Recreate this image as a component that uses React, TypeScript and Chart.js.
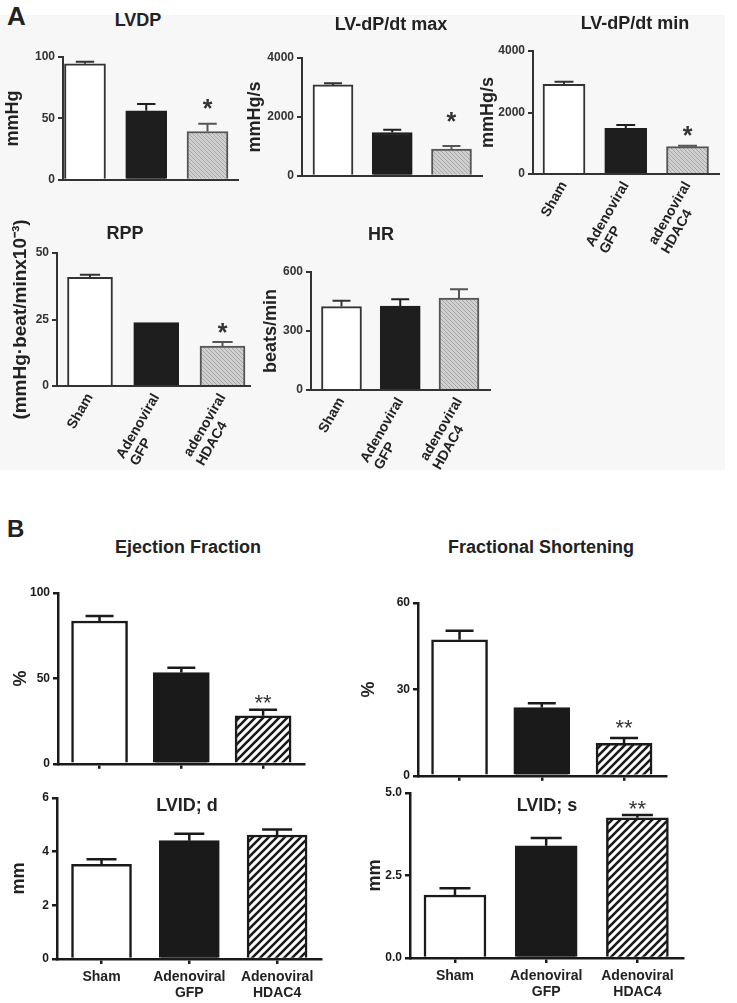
import React, { useEffect, useRef } from "react";
import { Chart, registerables } from "chart.js";

Chart.register(...registerables);

const FONT = '"Liberation Sans", Arial, Helvetica, sans-serif';

// ---- categories ----
const groupsA: string[][] = [["Sham"], ["Adenoviral", "GFP"], ["adenoviral", "HDAC4"]];
const groupsB: string[][] = [["Sham"], ["Adenoviral", "GFP"], ["Adenoviral", "HDAC4"]];

// ---- panel A data ----
const lvdpMean = [94.5, 56.2, 39.3];
const lvdpSem = [1.6, 5.5, 6.3];
const lvdpStars = ["", "", "*"];
const lvdpTicks = [0, 50, 100];

const dpdtMaxMean = [3085, 1470, 905];
const dpdtMaxSem = [55, 90, 110];
const dpdtMaxStars = ["", "", "*"];
const dpdtMaxTicks = [0, 2000, 4000];

const dpdtMinMean = [2915, 1485, 890];
const dpdtMinSem = [85, 110, 30];
const dpdtMinStars = ["", "", "*"];
const dpdtMinTicks = [0, 2000, 4000];

const rppMean = [40.9, 23.8, 15.0];
const rppSem = [0.9, 0, 1.5];
const rppStars = ["", "", "*"];
const rppTicks = [0, 25, 50];

const hrMean = [424, 427, 468];
const hrSem = [30, 34, 44];
const hrStars = ["", "", ""];
const hrTicks = [0, 300, 600];

// ---- panel B data ----
const efMean = [83.6, 53.4, 28.1];
const efSem = [2.9, 2.9, 3.5];
const efStars = ["", "", "**"];
const efTicks = [0, 50, 100];

const fsMean = [47.2, 23.7, 11.3];
const fsSem = [3.2, 1.5, 1.8];
const fsStars = ["", "", "**"];
const fsTicks = [0, 30, 60];

const lvidDMean = [3.53, 4.41, 4.62];
const lvidDSem = [0.19, 0.26, 0.21];
const lvidDStars = ["", "", ""];
const lvidDTicks = [0, 2, 4, 6];

const lvidSMean = [1.91, 3.40, 4.25];
const lvidSSem = [0.2, 0.24, 0.08];
const lvidSStars = ["", "", "**"];
const lvidSTicks = [0, 2.5, 5];
const lvidSTickLabels = ["0.0", "2.5", "5.0"];

type Spec = {
  id: string;
  title: string; tx: number; ty: number;
  cx: number; cy: number; cw: number;
  pl: number; pt: number; pr: number; pb: number;
  xh: number; xMin: number; xMax: number; bar: number;
  ticks: number[]; tickLabels?: string[];
  yTitle: string; yTitleX: number; yTitleSize?: number;
  means: number[]; sems: number[]; stars: string[]; starGap: number;
  panel: "A" | "B";
  labels: string[][] | null; rotate: boolean; xTicks: boolean; labelPad: number;
};

const SPECS: Spec[] = [
  { id: "lvdp", title: "LVDP", tx: 138, ty: 20, cx: 0, cy: 45, cw: 250, pl: 63, pt: 57, pr: 238, pb: 180,
    xh: 10, xMin: 0.641, xMax: 3.498, bar: 41, ticks: lvdpTicks, yTitle: "mmHg", yTitleX: 13,
    means: lvdpMean, sems: lvdpSem, stars: lvdpStars, starGap: 20, panel: "A", labels: null, rotate: false, xTicks: false, labelPad: 0 },
  { id: "dpmax", title: "LV-dP/dt max", tx: 391, ty: 24, cx: 240, cy: 46, cw: 250, pl: 302, pt: 58, pr: 482, pb: 176,
    xh: 10, xMin: 0.477, xMax: 3.515, bar: 40, ticks: dpdtMaxTicks, yTitle: "mmHg/s", yTitleX: 255,
    means: dpdtMaxMean, sems: dpdtMaxSem, stars: dpdtMaxStars, starGap: 29, panel: "A", labels: null, rotate: false, xTicks: false, labelPad: 0 },
  { id: "dpmin", title: "LV-dP/dt min", tx: 635, ty: 23, cx: 470, cy: 39, cw: 267, pl: 533, pt: 51, pr: 719, pb: 174,
    xh: 80, xMin: 0.498, xMax: 3.51, bar: 42, ticks: dpdtMinTicks, yTitle: "mmHg/s", yTitleX: 488,
    means: dpdtMinMean, sems: dpdtMinSem, stars: dpdtMinStars, starGap: 15, panel: "A", labels: groupsA, rotate: true, xTicks: false, labelPad: 5 },
  { id: "rpp", title: "RPP", tx: 125, ty: 233, cx: 0, cy: 200, cw: 262, pl: 57, pt: 253, pr: 250, pb: 386,
    xh: 85, xMin: 0.502, xMax: 3.415, bar: 45, ticks: rppTicks, yTitle: "(mmHg\u00b7beat/minx10\u207b\u00b3)", yTitleX: 21, yTitleSize: 19,
    means: rppMean, sems: rppSem, stars: rppStars, starGap: 14, panel: "A", labels: groupsA, rotate: true, xTicks: false, labelPad: 5 },
  { id: "hr", title: "HR", tx: 381, ty: 234, cx: 250, cy: 260, cw: 250, pl: 311, pt: 272, pr: 490, pb: 390,
    xh: 85, xMin: 0.481, xMax: 3.528, bar: 40, ticks: hrTicks, yTitle: "beats/min", yTitleX: 271,
    means: hrMean, sems: hrSem, stars: hrStars, starGap: 14, panel: "A", labels: groupsA, rotate: true, xTicks: false, labelPad: 5 },
  { id: "ef", title: "Ejection Fraction", tx: 188, ty: 547, cx: 0, cy: 581, cw: 340, pl: 58, pt: 593, pr: 304, pb: 764,
    xh: 10, xMin: 0.492, xMax: 3.5, bar: 56, ticks: efTicks, yTitle: "%", yTitleX: 21,
    means: efMean, sems: efSem, stars: efStars, starGap: 11, panel: "B", labels: null, rotate: false, xTicks: true, labelPad: 0 },
  { id: "fs", title: "Fractional Shortening", tx: 541, ty: 547, cx: 355, cy: 591, cw: 382, pl: 418, pt: 603, pr: 666, pb: 776,
    xh: 10, xMin: 0.495, xMax: 3.51, bar: 56, ticks: fsTicks, yTitle: "%", yTitleX: 369,
    means: fsMean, sems: fsSem, stars: fsStars, starGap: 14, panel: "B", labels: null, rotate: false, xTicks: true, labelPad: 0 },
  { id: "lvidd", title: "LVID; d", tx: 187, ty: 805, cx: 0, cy: 786, cw: 345, pl: 57, pt: 798, pr: 321, pb: 959,
    xh: 44, xMin: 0.493, xMax: 3.5, bar: 60, ticks: lvidDTicks, yTitle: "mm", yTitleX: 19,
    means: lvidDMean, sems: lvidDSem, stars: lvidDStars, starGap: 10, panel: "B", labels: groupsB, rotate: false, xTicks: true, labelPad: 5 },
  { id: "lvids", title: "LVID; s", tx: 547, ty: 805, cx: 355, cy: 781, cw: 382, pl: 410, pt: 793, pr: 683, pb: 958,
    xh: 45, xMin: 0.507, xMax: 3.5, bar: 62, ticks: lvidSTicks, tickLabels: lvidSTickLabels, yTitle: "mm", yTitleX: 375,
    means: lvidSMean, sems: lvidSSem, stars: lvidSStars, starGap: 10, panel: "B", labels: groupsB, rotate: false, xTicks: true, labelPad: 5 },
];

const STYLE = {
  A: { axis: "#333333", axisW: 2, tickColor: "#333333", fills: ["#ffffff", "#1e1e1e"], borders: ["#333333", "#1e1e1e", "#555555"],
       barW: 2, errW: 2, cap: 0.45, starFont: `bold 25px ${FONT}`, starColor: "#333333", yTitleSize: 18, labelSize: 14 },
  B: { axis: "#1a1a1a", axisW: 2.5, tickColor: "#1a1a1a", fills: ["#ffffff", "#1a1a1a"], borders: ["#1a1a1a", "#1a1a1a", "#1a1a1a"],
       barW: 2.5, errW: 2.5, cap: 0.5, starFont: `22px ${FONT}`, starColor: "#333333", yTitleSize: 18, labelSize: 14 },
};

function makePattern(kind: "A" | "B"): CanvasPattern | string {
  const c = document.createElement("canvas");
  const n = kind === "A" ? 4 : 8;
  c.width = n; c.height = n;
  const g = c.getContext("2d");
  if (!g) return "#cccccc";
  if (kind === "A") {
    g.fillStyle = "#d0d0d0"; g.fillRect(0, 0, n, n);
    g.strokeStyle = "#a6a6a6"; g.lineWidth = 1;
    g.beginPath();
    g.moveTo(-1, -1); g.lineTo(n + 1, n + 1);
    g.moveTo(-1, n - 1); g.lineTo(1, n + 1);
    g.moveTo(n - 1, -1); g.lineTo(n + 1, 1);
    g.stroke();
  } else {
    g.fillStyle = "#ffffff"; g.fillRect(0, 0, n, n);
    g.strokeStyle = "#1a1a1a"; g.lineWidth = 2.6;
    g.beginPath();
    g.moveTo(-1, n + 1); g.lineTo(n + 1, -1);
    g.moveTo(-3, 3); g.lineTo(3, -3);
    g.moveTo(n - 3, n + 3); g.lineTo(n + 3, n - 3);
    g.stroke();
  }
  return g.createPattern(c, "repeat") || "#cccccc";
}

// Rotated multi-line labels are right-aligned by Chart.js; pad the shorter
// line with trailing spaces so the lines start together, as in the figure.
function padLines(lines: string[], font: string): string[] {
  const g = document.createElement("canvas").getContext("2d");
  if (!g || lines.length < 2) return lines;
  g.font = font;
  const w = lines.map((l) => g.measureText(l).width);
  const maxW = Math.max(...w);
  const sp = g.measureText(" ").width;
  return lines.map((l, i) => l + " ".repeat(Math.max(0, Math.round((maxW - w[i]) / sp))));
}

function errPlugin(s: Spec, st: any) {
  return {
    id: "errStars_" + s.id,
    afterDatasetsDraw(chart: any) {
      const meta = chart.getDatasetMeta(0);
      const ctx = chart.ctx as CanvasRenderingContext2D;
      const y = chart.scales.y;
      meta.data.forEach((bar: any, i: number) => {
        const e = s.sems[i];
        const yTop = y.getPixelForValue(s.means[i] + e);
        const half = (bar.width * st.cap) / 2;
        ctx.save();
        ctx.strokeStyle = st.borders[i];
        ctx.lineWidth = st.errW;
        if (e > 0) {
          ctx.beginPath();
          ctx.moveTo(bar.x, bar.y);
          ctx.lineTo(bar.x, yTop);
          ctx.moveTo(bar.x - half, yTop);
          ctx.lineTo(bar.x + half, yTop);
          ctx.stroke();
        }
        const star = s.stars[i];
        if (star) {
          ctx.font = st.starFont;
          ctx.fillStyle = st.starColor;
          ctx.textAlign = "center";
          ctx.textBaseline = "alphabetic";
          const m = ctx.measureText(star);
          const cyStar = yTop - s.starGap;
          const base = cyStar + (m.actualBoundingBoxAscent - m.actualBoundingBoxDescent) / 2;
          ctx.fillText(star, bar.x, base);
        }
        ctx.restore();
      });
    },
  };
}

function build(canvas: HTMLCanvasElement, s: Spec, pattern: CanvasPattern | string) {
  const st = (STYLE as any)[s.panel];
  const ySize = s.yTitleSize || st.yTitleSize;
  const yLine = ySize * 1.2;
  const labelFont = `bold ${st.labelSize}px ${FONT}`;
  const labels = s.labels ? s.labels.map((l) => (s.rotate ? padLines(l, labelFont) : l)) : null;
  const cfg: any = {
    type: "bar",
    data: {
      datasets: [{
        data: s.means.map((v, i) => ({ x: i + 1, y: v })),
        backgroundColor: [st.fills[0], st.fills[1], pattern],
        borderColor: st.borders,
        borderWidth: st.barW,
        borderSkipped: "start",
        barThickness: s.bar,
      }],
    },
    options: {
      animation: false,
      responsive: false,
      devicePixelRatio: 1,
      events: [],
      layout: { padding: { left: 0, top: s.pt - s.cy, right: s.cw - (s.pr - s.cx), bottom: 0 } },
      plugins: { legend: { display: false }, tooltip: { enabled: false }, title: { display: false } },
      scales: {
        x: {
          type: "linear",
          offset: false,
          bounds: "data",
          min: s.xMin,
          max: s.xMax,
          afterBuildTicks: (sc: any) => { sc.ticks = s.means.map((_, i) => ({ value: i + 1 })); },
          afterFit: (sc: any) => { sc.height = s.xh; },
          grid: { display: true, offset: false, drawOnChartArea: false, drawTicks: s.xTicks, tickLength: 5, color: st.axis, lineWidth: st.axisW },
          border: { display: true, color: st.axis, width: st.axisW },
          ticks: {
            display: !!labels,
            autoSkip: false,
            maxRotation: s.rotate ? 60 : 0,
            minRotation: s.rotate ? 60 : 0,
            padding: s.labelPad,
            color: "#222222",
            font: { family: FONT, size: st.labelSize, weight: "bold", lineHeight: s.rotate ? 1.1 : 1.15 },
            callback: (v: number) => (labels ? labels[Math.round(v) - 1] : ""),
          },
        },
        y: {
          type: "linear",
          min: 0,
          max: s.ticks[s.ticks.length - 1],
          afterBuildTicks: (sc: any) => { sc.ticks = s.ticks.map((v) => ({ value: v })); },
          afterFit: (sc: any) => { sc.width = s.pl - s.cx; },
          grid: { display: true, drawOnChartArea: false, drawTicks: true, tickLength: 5, color: st.axis, lineWidth: st.axisW },
          border: { display: true, color: st.axis, width: st.axisW },
          ticks: {
            padding: 3,
            color: st.tickColor,
            font: { family: FONT, size: 12, weight: "bold" },
            callback: (v: number, i: number) => (s.tickLabels ? s.tickLabels[i] : String(v)),
          },
          title: {
            display: true,
            text: s.yTitle,
            color: "#222222",
            font: { family: FONT, size: ySize, weight: "bold", lineHeight: 1.2 },
            padding: { top: Math.max(0, s.yTitleX - s.cx - yLine / 2), bottom: 0 },
          },
        },
      },
    },
    plugins: [errPlugin(s, st)],
  };
  return new Chart(canvas, cfg);
}

type TextItem = { text: string; x: number; cy: number; size: number; align: "left" | "center" };

const TEXTS: TextItem[] = [
  { text: "A", x: 7, cy: 16, size: 26, align: "left" },
  { text: "B", x: 7, cy: 529, size: 24, align: "left" },
  ...SPECS.map((s) => ({ text: s.title, x: s.tx, cy: s.ty, size: 18, align: "center" as const })),
];

export default function App() {
  const refs = useRef<(HTMLCanvasElement | null)[]>([]);
  useEffect(() => {
    const patA = makePattern("A");
    const patB = makePattern("B");
    const charts = SPECS.map((s, i) => build(refs.current[i] as HTMLCanvasElement, s, s.panel === "A" ? patA : patB));
    return () => charts.forEach((c) => c.destroy());
  }, []);
  return (
    <div style={{ position: "absolute", left: 0, top: 0, width: 737, height: 1003, background: "#ffffff", overflow: "hidden", fontFamily: FONT }}>
      <div style={{ position: "absolute", left: 0, top: 15, width: 725, height: 455, background: "#f7f7f7" }} />
      {SPECS.map((s, i) => (
        <canvas
          key={s.id}
          ref={(el) => { refs.current[i] = el; }}
          width={s.cw}
          height={s.pb - s.cy + s.xh}
          style={{ position: "absolute", left: s.cx, top: s.cy }}
        />
      ))}
      {TEXTS.map((t, i) => (
        <div
          key={i}
          style={{
            position: "absolute",
            left: t.x,
            top: t.cy - 0.49 * t.size,
            fontSize: t.size,
            lineHeight: `${t.size}px`,
            fontWeight: "bold",
            color: "#222222",
            whiteSpace: "nowrap",
            transform: t.align === "center" ? "translateX(-50%)" : undefined,
          }}
        >
          {t.text}
        </div>
      ))}
    </div>
  );
}
